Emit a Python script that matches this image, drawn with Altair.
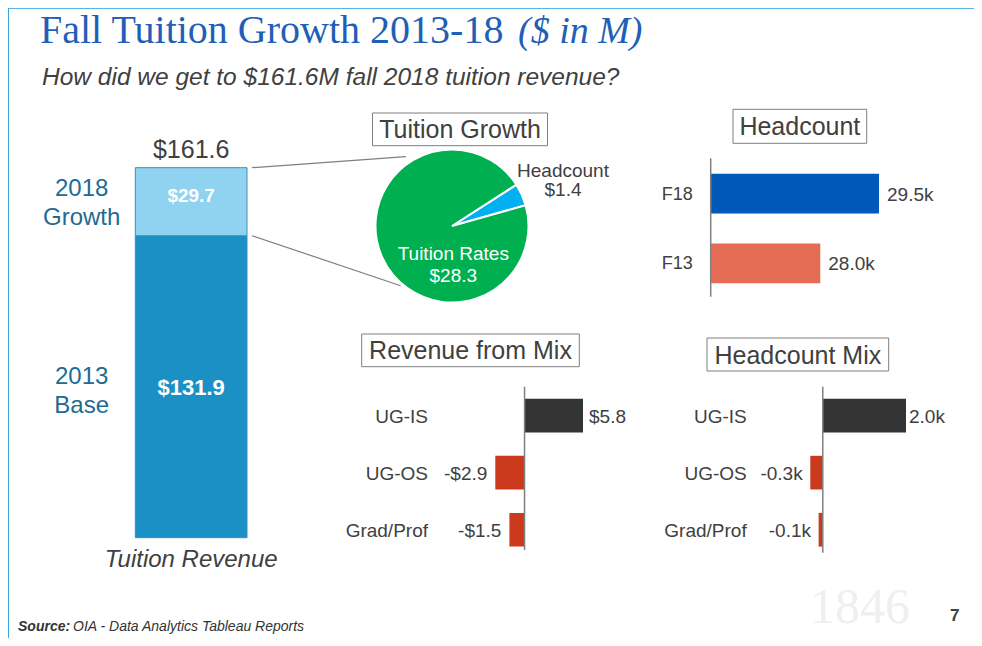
import math
import altair as alt
import pandas as pd

# ---------------- data ----------------
rev_segments = ["2013 Base", "2018 Growth"]
rev_values = [131.9, 29.7]
bar_caption = "Tuition Revenue"

growth_parts = ["Headcount", "Tuition Rates"]
growth_values = [1.4, 28.3]

hc_years = ["F18", "F13"]
hc_values = [29.5, 28.0]          # thousands of students
hc_axis_start = 25.2              # value where the headcount bars start

mix_groups = ["UG-IS", "UG-OS", "Grad/Prof"]
rev_mix_values = [5.8, -2.9, -1.5]   # $M
hc_mix_values = [2.0, -0.3, -0.1]    # thousands

title_text = "Fall Tuition Growth 2013-18"
title_unit = "($ in M)"
subtitle_text = "How did we get to $161.6M fall 2018 tuition revenue?"
panel_titles = ["Tuition Growth", "Headcount", "Revenue from Mix", "Headcount Mix"]
source_label = "Source:"
source_text = "OIA - Data Analytics Tableau Reports"
page_number = "7"
watermark = "1846"

# ---------------- styles ----------------
SANS = "Liberation Sans, Arial, sans-serif"
SERIF = "Liberation Serif, Georgia, serif"
GRAY = "#404040"
LINE_GRAY = "#808080"
TITLE_BLUE = "#1F5FB8"
LABEL_TEAL = "#1F6B93"
POS_COLOR = "#333333"
NEG_COLOR = "#CB3A1D"


def one(text):
    return pd.DataFrame({"t": [text]})


def label(text, x, y, size, color=GRAY, align="left", baseline="alphabetic",
          font=SANS, style="normal", weight="normal", **kw):
    return alt.Chart(one(text)).mark_text(
        align=align, baseline=baseline, font=font, fontSize=size, color=color,
        fontStyle=style, fontWeight=weight, **kw
    ).encode(text="t:N", x=alt.value(x), y=alt.value(y))


def title_box(text, x1, x2, y1, y2):
    box = alt.Chart(one(text)).mark_rect(
        fill="white", stroke="#7F7F7F", strokeWidth=1
    ).encode(x=alt.value(x1), x2=alt.value(x2), y=alt.value(y1), y2=alt.value(y2))
    txt = label(text, (x1 + x2) / 2, (y1 + y2) / 2 + 1, 25, align="center",
                baseline="middle")
    return [box, txt]


layers = []

# ---------------- frame ----------------
layers.append(alt.Chart(one("f")).mark_rule(color="#5AB4E2", strokeWidth=2).encode(
    x=alt.value(0), x2=alt.value(966), y=alt.value(0)))
layers.append(alt.Chart(one("f")).mark_rule(color="#3BA6DC", strokeWidth=2).encode(
    x=alt.value(0), y=alt.value(0), y2=alt.value(630)))
layers.append(label(watermark, 802, 615, 50, color="#EFEFEF", font=SERIF))

# ---------------- titles ----------------
layers.append(label(title_text, 32, 35, 40, color=TITLE_BLUE, font=SERIF))
layers.append(label(title_unit, 510, 35, 38, color=TITLE_BLUE, font=SERIF, style="italic"))
layers.append(label(subtitle_text, 34, 77, 24.5, style="italic"))

# ---------------- left stacked bar ----------------
rev_df = pd.DataFrame({"segment": rev_segments, "value": rev_values})
rev_df["order"] = range(len(rev_df))
rev_df["end"] = rev_df["value"].cumsum()
rev_df["start"] = rev_df["end"] - rev_df["value"]
rev_df["mid"] = (rev_df["start"] + rev_df["end"]) / 2
rev_df["label"] = rev_df["value"].map(lambda v: f"${v:.1f}")
rev_df["caption"] = bar_caption
rev_total = round(sum(rev_values), 1)

rev_x = alt.Scale(domain=[bar_caption], range=[127.3, 239], paddingInner=0, paddingOuter=0)
rev_y = alt.Scale(domain=[0, rev_total], range=[529.7, 159.7], nice=False, zero=True)
seg_color = alt.Scale(domain=rev_segments, range=["#1B90C5", "#8FD3F0"])

layers.append(alt.Chart(rev_df).mark_bar(stroke="#3A8FBF", strokeWidth=1).encode(
    x=alt.X("caption:N", scale=rev_x, axis=None),
    y=alt.Y("start:Q", scale=rev_y, axis=None),
    y2="end:Q",
    color=alt.Color("segment:N", scale=seg_color, legend=None),
))
layers.append(alt.Chart(rev_df).transform_filter(alt.datum.segment == rev_segments[1]).mark_text(
    font=SANS, fontSize=19, fontWeight="bold", color="white", baseline="alphabetic"
).encode(x=alt.X("caption:N", scale=rev_x, axis=None),
         y=alt.Y("mid:Q", scale=rev_y, axis=None), text="label:N"))
layers.append(alt.Chart(rev_df).transform_filter(alt.datum.segment == rev_segments[0]).mark_text(
    font=SANS, fontSize=22, fontWeight="bold", color="white", baseline="middle", dy=1
).encode(x=alt.X("caption:N", scale=rev_x, axis=None),
         y=alt.Y("mid:Q", scale=rev_y, axis=None), text="label:N"))
for seg, shift in zip(rev_segments, [-10, -13]):
    layers.append(alt.Chart(rev_df).transform_filter(alt.datum.segment == seg).mark_text(
        font=SANS, fontSize=24, color=LABEL_TEAL, baseline="middle", lineBreak=" ",
        lineHeight=29.5, dy=shift
    ).encode(x=alt.value(73.7), y=alt.Y("mid:Q", scale=rev_y, axis=None), text="segment:N"))

tot_df = pd.DataFrame({"caption": [bar_caption], "total": [rev_total],
                       "label": [f"${rev_total:.1f}"]})
layers.append(alt.Chart(tot_df).mark_text(
    font=SANS, fontSize=25, color=GRAY, baseline="alphabetic", dy=-10
).encode(x=alt.X("caption:N", scale=rev_x, axis=None),
         y=alt.Y("total:Q", scale=rev_y, axis=None), text="label:N"))
layers.append(alt.Chart(tot_df).mark_text(
    font=SANS, fontSize=24, color=GRAY, fontStyle="italic", baseline="alphabetic", dy=29
).encode(x=alt.X("caption:N", scale=rev_x, axis=None),
         y=alt.Y(datum=0, scale=rev_y, axis=None), text="caption:N"))

# connector lines from the growth segment to the pie
layers.append(alt.Chart(one("c")).mark_rule(color="#7F7F7F", strokeWidth=1.2).encode(
    x=alt.value(244), y=alt.Y(datum=rev_total, scale=rev_y, axis=None),
    x2=alt.value(398), y2=alt.value(148.7)))
layers.append(alt.Chart(one("c")).mark_rule(color="#7F7F7F", strokeWidth=1.2).encode(
    x=alt.value(244), y=alt.Y(datum=rev_values[0], scale=rev_y, axis=None),
    x2=alt.value(392.7), y2=alt.value(277.7)))

# ---------------- pie ----------------
pie_df = pd.DataFrame({"part": growth_parts, "value": growth_values})
pie_df["order"] = range(len(pie_df))
pie_df["label"] = pie_df["part"] + "\n$" + pie_df["value"].map(lambda v: f"{v:.1f}")
start = 1.0
layers.append(alt.Chart(pie_df).mark_arc(outerRadius=76.5, stroke="white", strokeWidth=2).encode(
    theta=alt.Theta("value:Q", stack=True,
                    scale=alt.Scale(domain=[0, sum(growth_values)], range=[start, start + 2 * math.pi])),
    color=alt.Color("part:N", scale=alt.Scale(domain=growth_parts, range=["#00B0F0", "#00AF50"]),
                    legend=None),
    order=alt.Order("order:Q"),
    x=alt.value(444), y=alt.value(218),
))
layers.append(alt.Chart(pie_df).transform_filter(alt.datum.part == growth_parts[1]).mark_text(
    font=SANS, fontSize=19, color="white", baseline="middle", lineBreak="\n", lineHeight=22.7
).encode(text="label:N", x=alt.value(445.3), y=alt.value(245.7)))
layers.append(alt.Chart(pie_df).transform_filter(alt.datum.part == growth_parts[0]).mark_text(
    font=SANS, fontSize=19, color=GRAY, baseline="middle", lineBreak="\n", lineHeight=19.5
).encode(text="label:N", x=alt.value(555), y=alt.value(162.8)))

# ---------------- headcount bars ----------------
hc_df = pd.DataFrame({"year": hc_years, "value": hc_values})
hc_df["label"] = hc_df["value"].map(lambda v: f"{v:.1f}k")
hc_y = alt.Scale(domain=hc_years, range=[150.9, 290.1], paddingInner=0.43, paddingOuter=0.215)
hc_x = alt.Scale(domain=[hc_axis_start, max(hc_values)], range=[702.7, 871], nice=False, zero=False)
layers.append(alt.Chart(hc_df).mark_bar().encode(
    y=alt.Y("year:N", scale=hc_y, axis=None),
    x=alt.X("value:Q", scale=hc_x, axis=None),
    x2=alt.datum(hc_axis_start),
    color=alt.Color("year:N", scale=alt.Scale(domain=hc_years, range=["#0058B8", "#E46C55"]),
                    legend=None),
))
layers.append(alt.Chart(hc_df).mark_text(
    font=SANS, fontSize=19, color=GRAY, align="left", baseline="middle", dx=8, dy=1
).encode(y=alt.Y("year:N", scale=hc_y, axis=None),
         x=alt.X("value:Q", scale=hc_x, axis=None), text="label:N"))
layers.append(alt.Chart(hc_df).mark_text(
    font=SANS, fontSize=18, color=GRAY, align="right", baseline="middle", dy=1
).encode(y=alt.Y("year:N", scale=hc_y, axis=None), x=alt.value(684.7), text="year:N"))
layers.append(alt.Chart(one("a")).mark_rule(color=LINE_GRAY, strokeWidth=1.5).encode(
    x=alt.X(datum=hc_axis_start, scale=hc_x, axis=None), y=alt.value(150.3), y2=alt.value(288.7)))

# ---------------- mix bars ----------------
mix_y = alt.Scale(domain=mix_groups, range=[379, 550.3], paddingInner=0.41, paddingOuter=0.205)


def mix_panel(values, fmt, x_range, cat_right, pos_dx, neg_dx, axis_y2):
    df = pd.DataFrame({"group": mix_groups, "value": values})
    df["label"] = df["value"].map(fmt)
    xs = alt.Scale(domain=[min(values), max(values)], range=x_range, nice=False, zero=True)
    out = []
    out.append(alt.Chart(df).mark_bar().encode(
        y=alt.Y("group:N", scale=mix_y, axis=None),
        x=alt.X("value:Q", scale=xs, axis=None),
        x2=alt.datum(0),
        color=alt.condition("datum.value > 0", alt.value(POS_COLOR), alt.value(NEG_COLOR)),
    ))
    out.append(alt.Chart(df).transform_filter("datum.value > 0").mark_text(
        font=SANS, fontSize=19, color=GRAY, align="left", baseline="middle", dx=pos_dx, dy=1
    ).encode(y=alt.Y("group:N", scale=mix_y, axis=None),
             x=alt.X("value:Q", scale=xs, axis=None), text="label:N"))
    out.append(alt.Chart(df).transform_filter("datum.value < 0").mark_text(
        font=SANS, fontSize=19, color=GRAY, align="right", baseline="middle", dx=neg_dx, dy=1
    ).encode(y=alt.Y("group:N", scale=mix_y, axis=None),
             x=alt.X("value:Q", scale=xs, axis=None), text="label:N"))
    out.append(alt.Chart(df).mark_text(
        font=SANS, fontSize=19, color=GRAY, align="right", baseline="middle", dy=1
    ).encode(y=alt.Y("group:N", scale=mix_y, axis=None), x=alt.value(cat_right), text="group:N"))
    out.append(alt.Chart(one("a")).mark_rule(color=LINE_GRAY, strokeWidth=1.5).encode(
        x=alt.X(datum=0, scale=xs, axis=None), y=alt.value(378.7), y2=alt.value(axis_y2)))
    return out


layers += mix_panel(rev_mix_values,
                    lambda v: ("-" if v < 0 else "") + f"${abs(v):.1f}",
                    [487.3, 575], 420, 6, -8, 542)
layers += mix_panel(hc_mix_values,
                    lambda v: f"{v:.1f}k",
                    [802.3, 898], 738.7, 3, -7.6, 544.7)

# ---------------- panel title boxes ----------------
layers += title_box(panel_titles[0], 364.5, 539.5, 105, 137.7)
layers += title_box(panel_titles[1], 725, 858.7, 101.3, 135.3)
layers += title_box(panel_titles[2], 353.7, 571.3, 326, 358.7)
layers += title_box(panel_titles[3], 699, 880.7, 330, 363)

# ---------------- footer ----------------
layers.append(label(source_label, 10, 623, 14, style="italic", weight="bold", color="#333333"))
layers.append(label(source_text, 65, 623, 14, style="italic", color="#333333"))
layers.append(label(page_number, 942, 612.7, 17, weight="bold"))

chart = alt.layer(*layers).resolve_scale(
    x="independent", y="independent", color="independent", theta="independent"
).properties(
    width=966, height=630, padding=0, autosize=alt.AutoSizeParams(type="none")
).configure_view(stroke=None)

chart.save("out.html", embed_options={"renderer": "svg", "actions": False})
